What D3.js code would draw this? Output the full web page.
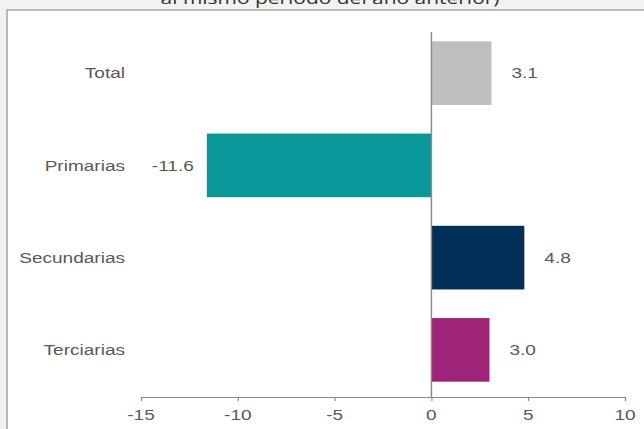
<!DOCTYPE html>
<html>
<head>
<meta charset="utf-8">
<script src="https://cdn.jsdelivr.net/npm/d3@7"></script>
<style>
  html, body { margin: 0; padding: 0; background: #f2f2f2; }
  svg { display: block; }
</style>
</head>
<body>
<svg id="chart" width="644" height="429"></svg>
<script>
// Variación por sector (%)
const categories = ["Total", "Primarias", "Secundarias", "Terciarias"];
const values = [3.1, -11.6, 4.8, 3.0];
const barColors = ["#bfbfbf", "#09979a", "#002f57", "#9d2477"];
const xTicks = [-15, -10, -5, 0, 5, 10];
const titleText = "al mismo periodo del año anterior)";

const W = 644, H = 429;
const SX = 1.27;              // horizontal glyph stretch used throughout
const textColor = "#595959";
const axisColor = "#8c8c8c";

const svg = d3.select("#chart");

// chart panel
svg.append("rect").attr("x", 7).attr("y", 10).attr("width", W).attr("height", H)
  .attr("fill", "#ffffff").attr("stroke", "#a6a6a6").attr("stroke-width", 1.5);

// helper: horizontally stretched text
function label(parent, x, y, txt, anchor, opts = {}) {
  return parent.append("text")
    .attr("transform", `translate(${x},${y}) scale(${SX},1)`)
    .attr("text-anchor", anchor)
    .attr("dy", opts.dy || "0.35em")
    .attr("font-family", opts.family || "'Liberation Sans', Arial, sans-serif")
    .attr("font-size", opts.size || 15)
    .attr("fill", opts.color || textColor)
    .text(txt);
}

// title (its upper part runs off the top edge)
label(svg, 330, 4, titleText, "middle",
  { family: "'Open Sans', 'Noto Sans', sans-serif", size: 16.5, color: "#333333", dy: "0" });

const x = d3.scaleLinear().domain([-15, 10]).range([141, 625]);
const y = d3.scaleBand().domain(categories).range([27, 396])
  .paddingInner(0.31).paddingOuter(0.155);

// bars
const g = svg.append("g");
g.selectAll("rect.bar").data(values).join("rect")
  .attr("class", "bar")
  .attr("x", d => x(Math.min(0, d)))
  .attr("width", d => Math.abs(x(d) - x(0)))
  .attr("y", (d, i) => y(categories[i]))
  .attr("height", y.bandwidth())
  .attr("fill", (d, i) => barColors[i]);

// x axis
const axisY = 397;
const xAxis = svg.append("g").attr("transform", `translate(0,${axisY})`)
  .call(d3.axisBottom(x).tickValues(xTicks).tickSize(4).tickSizeOuter(4).tickFormat(() => ""));
xAxis.select(".domain").attr("stroke", axisColor).attr("stroke-width", 1.2);
xAxis.selectAll(".tick line").attr("stroke", axisColor).attr("stroke-width", 1.2);
xTicks.forEach(t => label(svg, x(t), axisY + 18, d3.format("")(t).replace("−", "-"), "middle"));

// zero line
svg.append("line")
  .attr("x1", x(0)).attr("x2", x(0))
  .attr("y1", y.range()[0] + 5).attr("y2", axisY)
  .attr("stroke", axisColor).attr("stroke-width", 1.5);

// category labels
categories.forEach(c => label(svg, 125, y(c) + y.bandwidth() / 2, c, "end"));

// value labels
values.forEach((v, i) => {
  const cy = y(categories[i]) + y.bandwidth() / 2;
  const txt = d3.format(".1f")(v).replace("−", "-");
  if (v >= 0) label(svg, x(v) + 20, cy, txt, "start");
  else label(svg, x(v) - 13, cy, txt, "end");
});
</script>
</body>
</html>
